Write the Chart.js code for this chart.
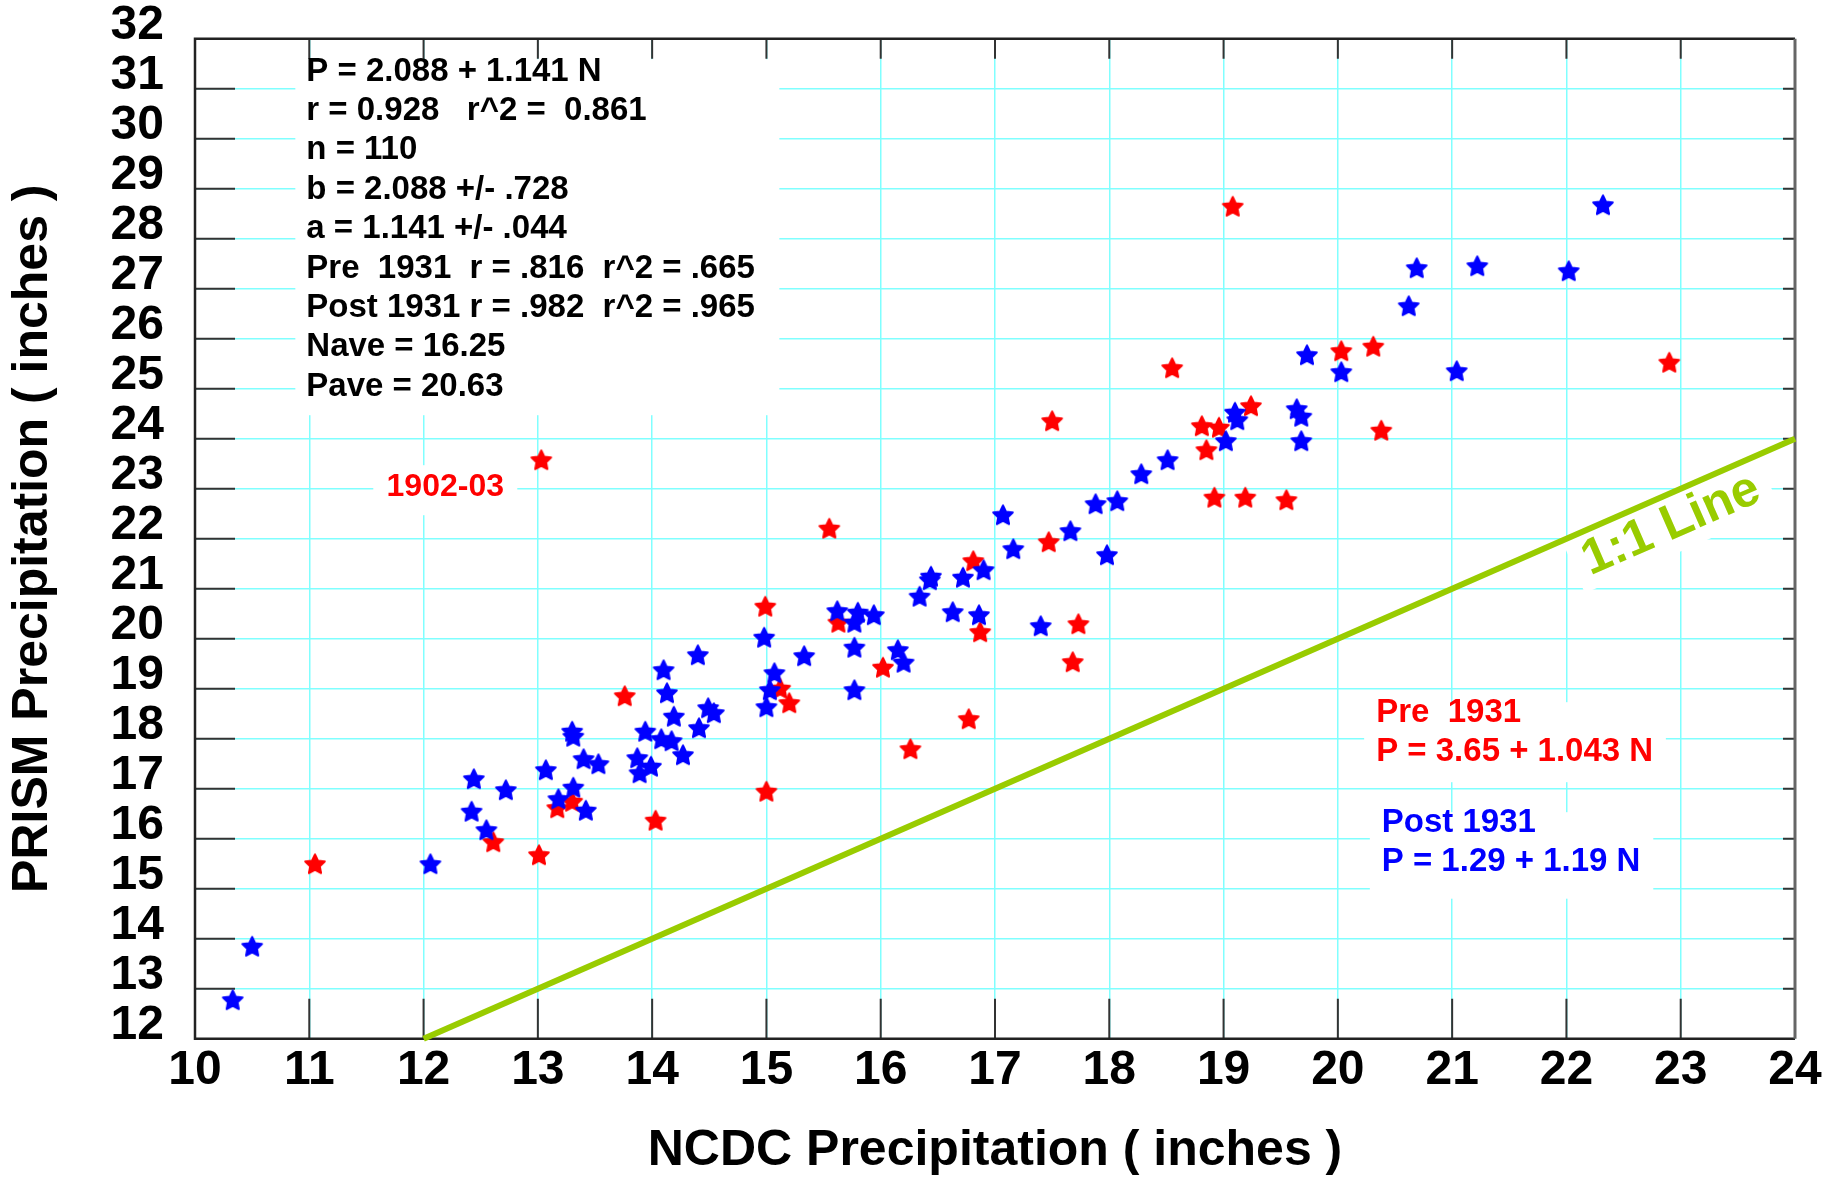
<!DOCTYPE html>
<html>
<head>
<meta charset="utf-8">
<script src="https://cdn.jsdelivr.net/npm/chart.js@4.4.1/dist/chart.umd.min.js"></script>
<style>
  html, body { margin: 0; padding: 0; background: #ffffff; }
  #wrap { width: 1839px; height: 1178px; }
</style>
</head>
<body>
<div id="wrap"><canvas id="c" width="1839" height="1178"></canvas></div>
<script>
// ---------------- DATA ----------------
const xTickValues = [10, 11, 12, 13, 14, 15, 16, 17, 18, 19, 20, 21, 22, 23, 24];
const yTickValues = [12, 13, 14, 15, 16, 17, 18, 19, 20, 21, 22, 23, 24, 25, 26, 27, 28, 29, 30, 31, 32];

// Pre 1931 (red) : NCDC (x) vs PRISM (y)
const preNCDC  = [11.05, 12.61, 13.01, 13.17, 13.30, 13.76, 14.03, 13.03, 14.99, 15.12, 15.20, 15.00,
                  15.55, 15.63, 16.02, 16.26, 16.77, 16.81, 16.87, 17.47, 17.50, 17.73, 17.68, 18.55,
                  19.08, 18.81, 18.96, 18.85, 19.24, 18.92, 19.19, 19.55, 20.03, 20.31, 20.38, 22.90];
const prePRISM = [15.49, 15.93, 15.67, 16.61, 16.74, 18.85, 16.36, 23.57, 20.64, 19.00, 18.71, 16.94,
                  22.20, 20.32, 19.42, 17.79, 18.39, 21.55, 20.13, 21.93, 24.35, 20.29, 19.53, 25.41,
                  28.64, 24.25, 24.22, 23.77, 24.65, 22.82, 22.82, 22.77, 25.75, 25.84, 24.16, 25.52];

// Post 1931 (blue)
const postNCDC  = [10.33, 10.50, 12.06, 12.55, 12.42, 12.44, 12.72, 13.07, 13.18, 13.31, 13.42, 13.30,
                   13.31, 13.40, 13.53, 13.87, 13.89, 13.99, 13.94, 14.08, 14.17, 14.27, 14.10, 14.13,
                   14.19, 14.40, 14.41, 14.49, 14.54, 14.98, 15.07, 15.03, 15.00, 15.33, 15.62, 15.80,
                   15.77, 15.94, 15.77, 15.77, 16.15, 16.20, 16.34, 16.44, 16.43, 16.63, 16.72, 16.90,
                   16.86, 17.07, 17.16, 17.66, 17.88, 18.07, 17.98, 17.40, 18.28, 18.51, 19.02, 19.10,
                   19.12, 19.64, 19.68, 19.68, 19.73, 20.03, 20.62, 20.69, 21.22, 22.02, 22.32, 21.04];
const postPRISM = [12.77, 13.84, 15.49, 16.17, 16.54, 17.19, 16.97, 17.37, 16.79, 17.02, 16.56, 18.14,
                   18.04, 17.59, 17.49, 17.61, 17.31, 17.44, 18.14, 17.99, 17.95, 17.67, 19.37, 18.91,
                   18.44, 19.67, 18.21, 18.61, 18.51, 20.02, 19.31, 18.97, 18.63, 19.65, 20.55, 20.52,
                   20.32, 20.47, 19.82, 18.97, 19.77, 19.52, 20.84, 21.24, 21.17, 20.53, 21.22, 21.37,
                   20.47, 22.47, 21.79, 22.15, 22.69, 22.75, 21.67, 20.25, 23.29, 23.57, 23.95, 24.52,
                   24.37, 24.59, 24.44, 23.95, 25.67, 25.33, 26.65, 27.41, 27.45, 27.35, 28.67, 25.35];

// 1:1 reference line
const oneToOneX = [12, 24];
const oneToOneY = [12, 24];

// Text
const statsLines = [
  'P = 2.088 + 1.141 N',
  'r = 0.928   r^2 =  0.861',
  'n = 110',
  'b = 2.088 +/- .728',
  'a = 1.141 +/- .044',
  'Pre  1931  r = .816  r^2 = .665',
  'Post 1931 r = .982  r^2 = .965',
  'Nave = 16.25',
  'Pave = 20.63'
];
const preLines  = ['Pre  1931', 'P = 3.65 + 1.043 N'];
const postLines = ['Post 1931', 'P = 1.29 + 1.19 N'];
const outlierLabel = '1902-03';
const lineLabel = '1:1 Line';
const xTitle = 'NCDC Precipitation ( inches )';
const yTitle = 'PRISM Precipitation ( inches )';

// ---------------- STYLE ----------------
const FONT = '"Liberation Sans", Arial, Helvetica, sans-serif';
const RED = '#ff0000', BLUE = '#0000ff', GREEN = '#99cc00';
const GRID = 'rgb(128,255,255)';

function makeStar(color) {
  const c = document.createElement('canvas');
  c.width = 28; c.height = 28;
  const g = c.getContext('2d');
  const cx = 14, cy = 14.5, R = 10.3, r = 5.1;
  g.beginPath();
  for (let i = 0; i < 10; i++) {
    const rad = (i % 2) ? r : R;
    const a = -Math.PI / 2 + i * Math.PI / 5;
    const px = cx + rad * Math.cos(a), py = cy + rad * Math.sin(a);
    if (i === 0) g.moveTo(px, py); else g.lineTo(px, py);
  }
  g.closePath();
  g.fillStyle = color; g.fill();
  g.lineJoin = 'round'; g.lineWidth = 2; g.strokeStyle = color; g.stroke();
  return c;
}
const redStar = makeStar(RED);
const blueStar = makeStar(BLUE);

function pts(xs, ys) { return xs.map((x, i) => ({ x: x, y: ys[i] })); }

// ---------------- ANNOTATION PLUGIN ----------------
const annot = {
  id: 'annot',
  beforeDatasetsDraw(chart) {
    const ctx = chart.ctx;
    const xs = chart.scales.x, ys = chart.scales.y;
    const X = v => xs.getPixelForValue(v), Y = v => ys.getPixelForValue(v);
    const a = chart.chartArea;
    ctx.save();

    // white boxes behind text
    ctx.fillStyle = '#ffffff';
    const box = (x0, x1, y0, y1) => ctx.fillRect(X(x0), Y(y0), X(x1) - X(x0), Y(y1) - Y(y0));
    box(10.878, 15.113, 31.59, 24.47);   // statistics
    box(20.23, 22.87, 18.73, 17.13);     // pre 1931
    box(20.28, 22.76, 16.53, 14.80);     // post 1931
    box(11.56, 12.82, 23.47, 22.47);     // 1902-03

    // tick marks (inside the frame)
    ctx.strokeStyle = '#333333';
    ctx.lineWidth = 2;
    ctx.beginPath();
    xTickValues.slice(1, -1).forEach(v => {
      const px = X(v);
      ctx.moveTo(px, a.top); ctx.lineTo(px, a.top + 20);
      ctx.moveTo(px, a.bottom); ctx.lineTo(px, a.bottom - 40);
    });
    yTickValues.slice(1, -1).forEach(v => {
      const py = Y(v);
      ctx.moveTo(a.left, py); ctx.lineTo(a.left + 40, py);
      ctx.moveTo(a.right, py); ctx.lineTo(a.right - 12, py);
    });
    ctx.stroke();

    // frame
    ctx.strokeStyle = '#222222';
    ctx.lineWidth = 2.5;
    ctx.beginPath();
    ctx.moveTo(a.right, a.top); ctx.lineTo(a.left, a.top); ctx.lineTo(a.left, a.bottom); ctx.lineTo(a.right, a.bottom);
    ctx.stroke();
    ctx.strokeStyle = '#666666';
    ctx.lineWidth = 3;
    ctx.beginPath();
    ctx.moveTo(a.right, a.top); ctx.lineTo(a.right, a.bottom);
    ctx.stroke();

    // statistics text
    ctx.textAlign = 'left';
    ctx.textBaseline = 'alphabetic';
    ctx.font = 'bold 33px ' + FONT;
    ctx.fillStyle = '#000000';
    const step = Y(0) - Y(0.788);
    statsLines.forEach((t, i) => ctx.fillText(t, X(10.974), Y(31.164) + i * step));

    // pre / post regression labels
    ctx.fillStyle = RED;
    ctx.fillText(preLines[0], X(20.335), Y(18.328));
    ctx.fillText(preLines[1], X(20.335), Y(17.56));
    ctx.fillStyle = BLUE;
    ctx.fillText(postLines[0], X(20.384), Y(16.14));
    ctx.fillText(postLines[1], X(20.384), Y(15.36));

    // outlier label
    ctx.fillStyle = RED;
    ctx.font = 'bold 32px ' + FONT;
    ctx.textAlign = 'center';
    ctx.fillText(outlierLabel, X(12.19), Y(22.854));

    // 1:1 line label (rotated along the line)
    const ang = Math.atan2(Y(24) - Y(12), X(24) - X(12));
    ctx.translate(X(22.91), Y(22.31));
    ctx.rotate(ang);
    ctx.font = 'bold 50px ' + FONT;
    const w = ctx.measureText(lineLabel).width;
    ctx.fillStyle = '#ffffff';
    ctx.fillRect(-w / 2 - 12, -30, w + 24, 60);
    ctx.fillStyle = GREEN;
    ctx.textAlign = 'center';
    ctx.textBaseline = 'middle';
    ctx.fillText(lineLabel, 0, 2);
    ctx.restore();
  }
};

// ---------------- CHART ----------------
new Chart(document.getElementById('c'), {
  type: 'scatter',
  data: {
    datasets: [
      {
        label: '1:1 Line',
        data: pts(oneToOneX, oneToOneY),
        showLine: true,
        borderColor: GREEN,
        borderWidth: 6,
        pointRadius: 0,
        fill: false,
        clip: 8,
        order: 3
      },
      {
        label: 'Pre 1931',
        data: pts(preNCDC, prePRISM),
        pointStyle: redStar,
        pointRadius: 10,
        order: 2
      },
      {
        label: 'Post 1931',
        data: pts(postNCDC, postPRISM),
        pointStyle: blueStar,
        pointRadius: 10,
        order: 1
      }
    ]
  },
  options: {
    responsive: false,
    animation: false,
    events: [],
    layout: { padding: { left: 0, right: 44, top: 38.7, bottom: 0 } },
    plugins: { legend: { display: false }, tooltip: { enabled: false } },
    scales: {
      x: {
        type: 'linear',
        min: 10, max: 24,
        afterBuildTicks: s => { s.ticks = xTickValues.map(v => ({ value: v })); },
        afterFit: s => { s.height = 139.3; s.paddingLeft = 0; s.paddingRight = 0; },
        grid: { color: GRID, lineWidth: 1.5, drawTicks: false },
        border: { display: false },
        ticks: {
          autoSkip: false, maxRotation: 0, padding: 8,
          color: '#000000',
          font: { family: FONT, size: 48, weight: 'bold', lineHeight: 1 }
        },
        title: {
          display: true, text: xTitle, color: '#000000',
          font: { family: FONT, size: 50, weight: 'bold', lineHeight: 1 },
          padding: { top: 0, bottom: 1.5 }
        }
      },
      y: {
        type: 'linear',
        min: 12, max: 32,
        afterBuildTicks: s => { s.ticks = yTickValues.map(v => ({ value: v })); },
        afterFit: s => { s.width = 195; s.paddingTop = 0; s.paddingBottom = 0; },
        grid: { color: GRID, lineWidth: 1.5, drawTicks: false },
        border: { display: false },
        ticks: {
          autoSkip: false, padding: 31, labelOffset: -13,
          color: '#000000',
          font: { family: FONT, size: 48, weight: 'bold', lineHeight: 1 }
        },
        title: {
          display: true, text: yTitle, color: '#000000',
          font: { family: FONT, size: 50, weight: 'bold', lineHeight: 1 },
          padding: { top: 8, bottom: 0 }
        }
      }
    }
  },
  plugins: [annot]
});
</script>
</body>
</html>
